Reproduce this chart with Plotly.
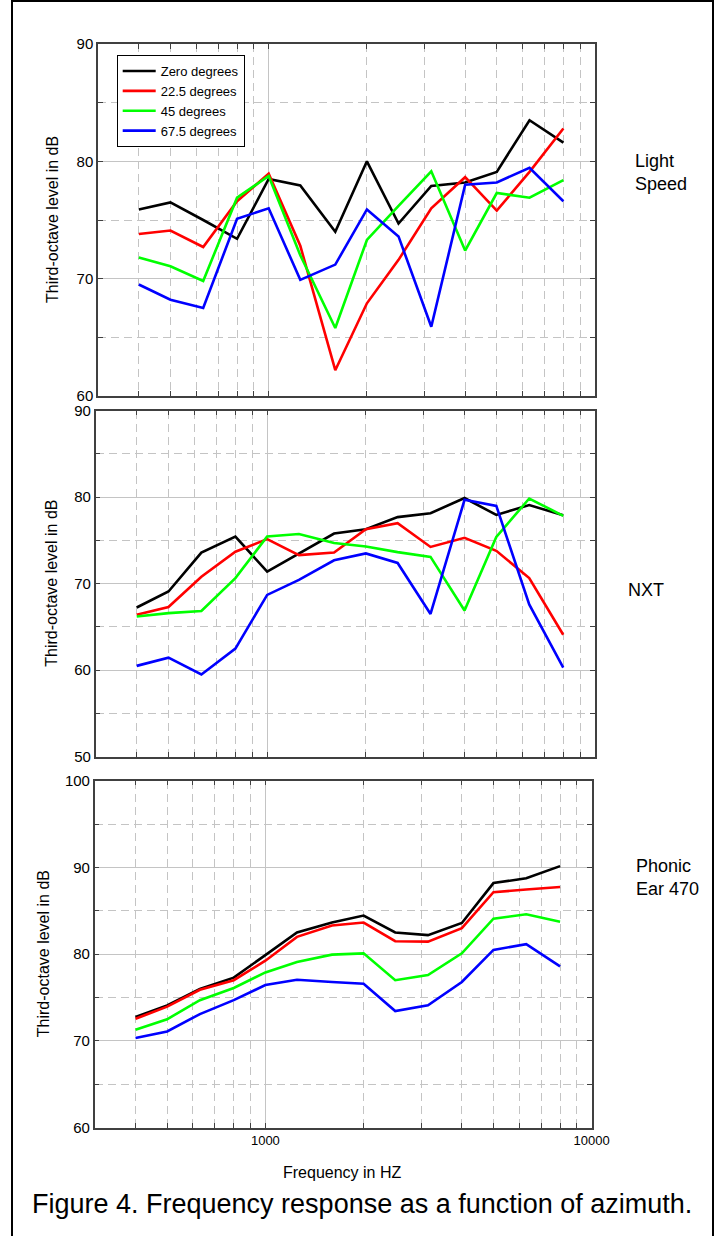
import plotly.graph_objects as go

freqs = [400, 500, 630, 800, 1000, 1250, 1600, 2000, 2500, 3150, 4000, 5000, 6300, 8000]
series_names = ["Zero degrees", "22.5 degrees", "45 degrees", "67.5 degrees"]
series_colors = ["#000000", "#ff0000", "#00ff00", "#0000ff"]

# Light Speed
ls_zero = [75.9, 76.5, 75.0, 73.4, 78.5, 77.95, 74.0, 80.0, 74.7, 77.9, 78.2, 79.1, 83.5, 81.6]
ls_225 = [73.8, 74.1, 72.7, 76.6, 78.95, 72.8, 62.2, 67.9, 71.6, 76.0, 78.65, 75.8, 79.1, 82.8]
ls_45 = [71.8, 71.05, 69.8, 76.9, 78.75, 72.0, 65.8, 73.3, 76.2, 79.15, 72.4, 77.3, 76.9, 78.4]
ls_675 = [69.5, 68.2, 67.5, 75.1, 76.0, 69.9, 71.2, 75.9, 73.6, 65.9, 78.0, 78.2, 79.45, 76.6]

# NXT
nxt_zero = [67.25, 69.1, 73.6, 75.45, 71.4, 73.5, 75.8, 76.3, 77.7, 78.15, 79.9, 77.95, 79.1, 77.9]
nxt_225 = [66.4, 67.3, 70.8, 73.7, 75.15, 73.3, 73.6, 76.3, 77.0, 74.25, 75.3, 73.8, 70.65, 64.1]
nxt_45 = [66.2, 66.6, 66.85, 70.65, 75.45, 75.75, 74.7, 74.3, 73.65, 73.1, 66.9, 75.4, 79.85, 77.85]
nxt_675 = [60.5, 61.45, 59.5, 62.5, 68.7, 70.45, 72.7, 73.5, 72.4, 66.5, 79.7, 79.0, 67.6, 60.3]

# Phonic Ear 470
pe_zero = [72.75, 74.1, 76.0, 77.3, 79.9, 82.5, 83.65, 84.45, 82.5, 82.2, 83.6, 88.2, 88.75, 90.15]
pe_225 = [72.55, 73.95, 75.9, 77.0, 79.25, 82.0, 83.3, 83.65, 81.5, 81.45, 83.0, 87.15, 87.45, 87.75]
pe_45 = [71.3, 72.5, 74.7, 76.1, 77.9, 79.1, 79.95, 80.1, 77.0, 77.6, 80.1, 84.1, 84.6, 83.75]
pe_675 = [70.35, 71.1, 73.1, 74.7, 76.45, 77.05, 76.8, 76.6, 73.45, 74.1, 76.8, 80.5, 81.15, 78.6]

panels = [
    ([ls_zero, ls_225, ls_45, ls_675], [60, 90], ["Light", "Speed"]),
    ([nxt_zero, nxt_225, nxt_45, nxt_675], [50, 90], ["NXT"]),
    ([pe_zero, pe_225, pe_45, pe_675], [60, 100], ["Phonic", "Ear 470"]),
]

x_major = [1000, 10000]
x_minor = [300, 400, 500, 600, 700, 800, 900, 2000, 3000, 4000, 5000, 6000, 7000, 8000, 9000]

W, H = 714, 1236
# pixel boxes: (left, right, top, bottom)
boxes = [(98, 595, 44, 396), (95.7, 595, 410.7, 756.7), (94.7, 591.7, 780.7, 1127.7)]
ytitle_x = [52, 52, 43]
label_pos = [(633, 173), (626, 590), (634, 877)]

FONT = "Arial, Liberation Sans, sans-serif"
GRID = "#c4c4c4"
AXC = "#404040"

fig = go.Figure()
layout = dict(
    width=W, height=H, margin=dict(l=0, r=0, t=0, b=0),
    paper_bgcolor="white", plot_bgcolor="white",
    font=dict(family=FONT, color="black"),
    showlegend=True,
    legend=dict(x=116.7 / W, y=1 - 55 / H, xanchor="left", yanchor="top",
                bgcolor="white", bordercolor="black", borderwidth=1,
                font=dict(size=13, family=FONT), itemwidth=33,
                tracegroupgap=0),
    annotations=[], shapes=[],
)

for i, (vals, yr, lab) in enumerate(panels):
    n = "" if i == 0 else str(i + 1)
    l, r, t, b = boxes[i]
    for j in range(4):
        fig.add_trace(go.Scatter(
            x=freqs, y=vals[j], mode="lines", name=series_names[j],
            line=dict(color=series_colors[j], width=2.6),
            xaxis="x" + n, yaxis="y" + n, showlegend=(i == 0),
        ))
    layout["xaxis" + n] = dict(
        type="log", range=[2.477, 4.0], domain=[l / W, r / W], anchor="y" + n,
        tickvals=x_major, ticktext=["1000", "10000"] if i == 2 else ["", ""],
        showticklabels=(i == 2),
        ticks="inside", ticklen=5, tickcolor=AXC, tickwidth=1.2,
        showgrid=True, gridcolor=GRID, gridwidth=1,
        showline=True, linecolor=AXC, linewidth=1.5, mirror="allticks",
        tickfont=dict(size=13), zeroline=False, automargin=False,
        minor=dict(tickvals=x_minor, ticks="inside", ticklen=5, tickcolor=AXC,
                   showgrid=True, gridcolor=GRID, griddash="8px,5px", gridwidth=1),
    )
    layout["yaxis" + n] = dict(
        range=yr, domain=[1 - b / H, 1 - t / H], anchor="x" + n,
        dtick=10, tick0=0, ticks="inside", ticklen=5, tickcolor=AXC, tickwidth=1.2,
        showgrid=True, gridcolor=GRID, gridwidth=1,
        showline=True, linecolor=AXC, linewidth=1.5, mirror="allticks",
        tickfont=dict(size=15), zeroline=False, automargin=False,
        minor=dict(dtick=5, tick0=0, ticks="inside", ticklen=5, tickcolor=AXC,
                   showgrid=True, gridcolor=GRID, griddash="8px,5px", gridwidth=1),
    )
    layout["annotations"].append(dict(
        text="Third-octave level in dB", textangle=-90, showarrow=False,
        xref="paper", yref="paper", x=ytitle_x[i] / W, y=1 - ((t + b) / 2) / H,
        xanchor="center", yanchor="middle", font=dict(size=16)))
    lx, ly = label_pos[i]
    layout["annotations"].append(dict(
        text="<br>".join(lab), showarrow=False, align="left",
        xref="paper", yref="paper", x=lx / W, y=1 - ly / H,
        xanchor="left", yanchor="middle", font=dict(size=18)))

layout["annotations"].append(dict(
    text="Frequency in HZ", showarrow=False, xref="paper", yref="paper",
    x=342 / W, y=1 - 1172 / H, xanchor="center", yanchor="middle", font=dict(size=16)))
layout["annotations"].append(dict(
    text="Figure 4. Frequency response as a function of azimuth.", showarrow=False,
    xref="paper", yref="paper", x=362 / W, y=1 - 1204 / H,
    xanchor="center", yanchor="middle", font=dict(size=27)))

# outer frame
layout["shapes"].append(dict(type="line", xref="paper", yref="paper",
                             x0=12 / W, x1=12 / W, y0=0, y1=1, line=dict(color="black", width=2)))
layout["shapes"].append(dict(type="line", xref="paper", yref="paper",
                             x0=12 / W, x1=1, y0=1 - 1 / H, y1=1 - 1 / H, line=dict(color="black", width=2)))
layout["shapes"].append(dict(type="line", xref="paper", yref="paper",
                             x0=1 - 1 / W, x1=1 - 1 / W, y0=0, y1=1, line=dict(color="black", width=2)))

fig.update_layout(**layout)
fig.write_html("out.html")
